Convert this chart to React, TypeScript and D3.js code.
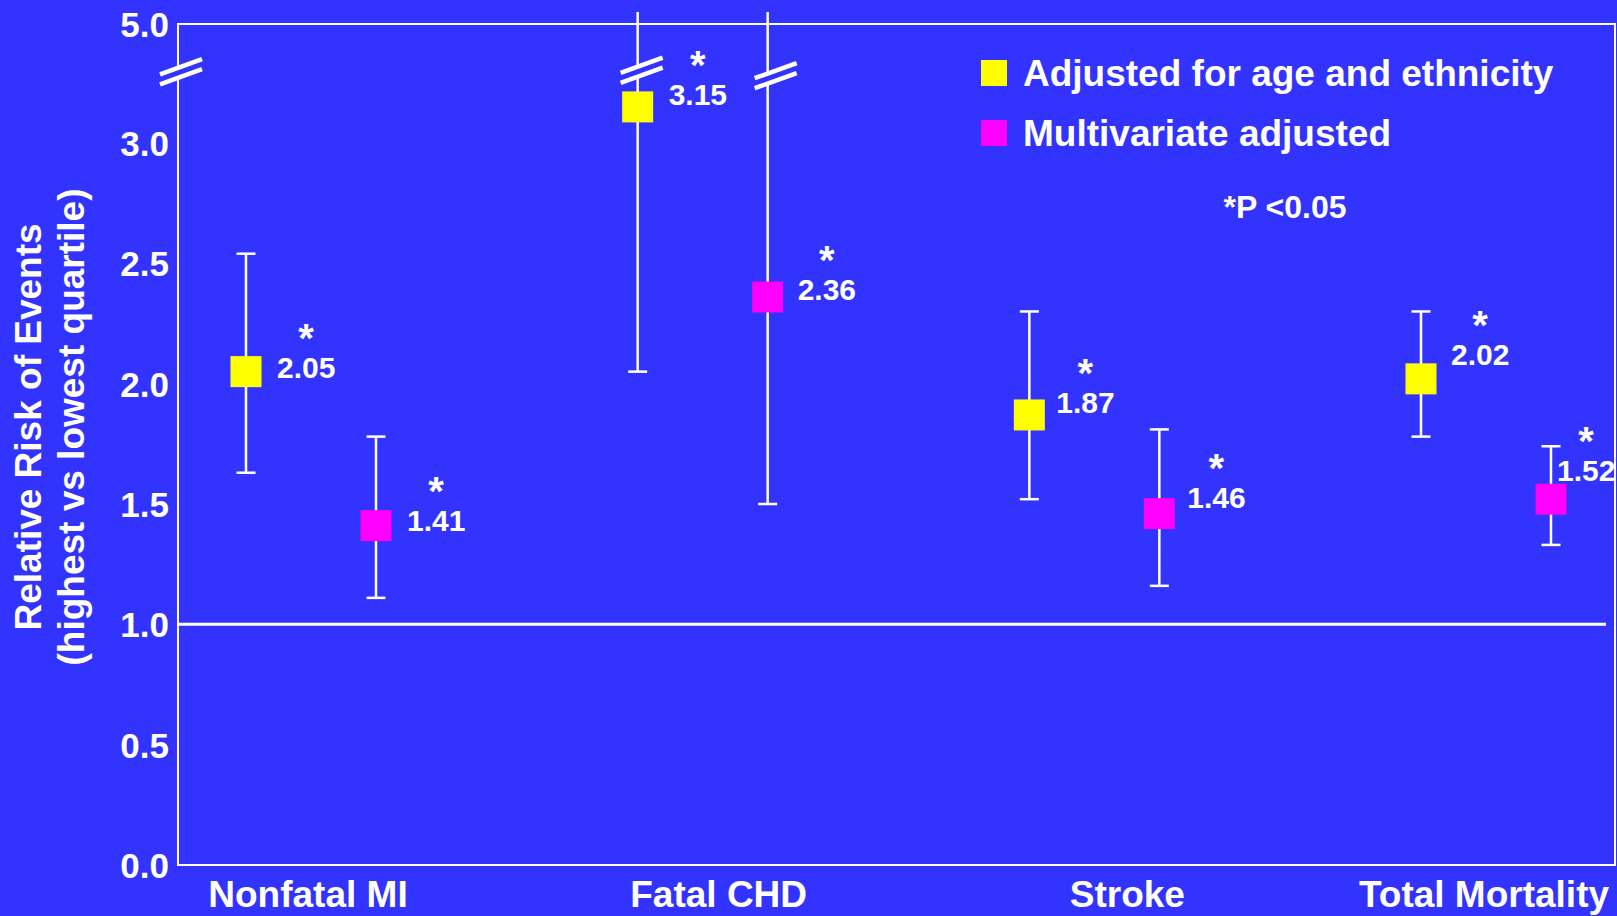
import React from 'react';
import * as d3 from 'd3';

// ---------- data ----------
const categories = ['Nonfatal MI', 'Fatal CHD', 'Stroke', 'Total Mortality'];
const seriesNames = ['Adjusted for age and ethnicity', 'Multivariate adjusted'];
const ageAdjRR = [2.05, 3.15, 1.87, 2.02];
const ageAdjLow = [1.63, 2.05, 1.52, 1.78];
const ageAdjHigh: (number | null)[] = [2.54, null, 2.3, 2.3]; // null: runs past the axis top
const multiRR = [1.41, 2.36, 1.46, 1.52];
const multiLow = [1.11, 1.5, 1.16, 1.33];
const multiHigh: (number | null)[] = [1.78, null, 1.81, 1.74];
const ageAdjSig = [true, true, true, true];
const multiSig = [true, true, true, true];
const yTicks = [0, 0.5, 1.0, 1.5, 2.0, 2.5, 3.0, 5.0];
const referenceValue = 1.0;
const yTitle = ['Relative Risk of Events', '(highest vs lowest quartile)'];
const pNote = '*P <0.05';

// ---------- layout / style ----------
const W = 1617;
const H = 916;
const BG = '#3333FF';
const YELLOW = '#FFFF00';
const MAGENTA = '#FF00FF';
const FONT = '"Liberation Sans", Arial, Helvetica, sans-serif';
const plotLeft = 178;
const plotRight = 1615;
const plotTop = 24;
const plotBottom = 865;
const breakValue = 3.3;
const seriesOffset = [-65, 65];
const markerSize = 31;
const capHalf = 9.5;
const overflowTop = 12;
// value-label placement relative to marker (dx to text start, dy to baseline)
const labelDx = [
  [31, 31, 27, 30],
  [31, 30, 28, 6],
];
const labelDy = [
  [6, -2, -2, -14],
  [5, 3, -6, -18],
];
const catLabelShift = [-3, 16, 33, -2];

const y = d3.scaleLinear().domain([0, breakValue, 5]).range([plotBottom, y0(breakValue), plotTop]);
function y0(v: number) {
  return plotBottom - (v * (plotBottom - 143)) / 3.0;
}
const x = d3
  .scalePoint<string>()
  .domain(categories)
  .range([311, 1486]);

const fmt = d3.format('.1f');

function BreakMark({ cx, cy }: { cx: number; cy: number }) {
  const hx = 21;
  const slope = -0.36;
  const gap = 5;
  const p = (dx: number, dy: number) => `${cx + dx},${cy + dx * slope + dy}`;
  return (
    <g>
      <polygon points={[p(-hx, -gap), p(hx, -gap), p(hx, gap), p(-hx, gap)].join(' ')} fill={BG} />
      <line x1={cx - hx} y1={cy - hx * slope - gap} x2={cx + hx} y2={cy + hx * slope - gap} stroke="#fff" strokeWidth={4.5} />
      <line x1={cx - hx} y1={cy - hx * slope + gap} x2={cx + hx} y2={cy + hx * slope + gap} stroke="#fff" strokeWidth={4.5} />
    </g>
  );
}

export default function App() {
  const series = [
    { name: seriesNames[0], color: YELLOW, rr: ageAdjRR, lo: ageAdjLow, hi: ageAdjHigh, sig: ageAdjSig },
    { name: seriesNames[1], color: MAGENTA, rr: multiRR, lo: multiLow, hi: multiHigh, sig: multiSig },
  ];
  return (
    <svg
      width={W}
      height={H}
      style={{ position: 'absolute', left: 0, top: 0, display: 'block' }}
      fontFamily={FONT}
      fontWeight="bold"
    >
      <rect x={0} y={0} width={W} height={H} fill={BG} />

      {/* frame */}
      <rect
        x={plotLeft}
        y={plotTop}
        width={plotRight - plotLeft}
        height={plotBottom - plotTop}
        fill="none"
        stroke="#fff"
        strokeWidth={2}
      />
      {/* reference line */}
      <line x1={plotLeft} x2={1606} y1={y(referenceValue)} y2={y(referenceValue)} stroke="#fff" strokeWidth={3} />

      {/* y ticks */}
      {yTicks.map((t) => (
        <text key={t} x={169} y={y(t) + 13} textAnchor="end" fill="#fff" fontSize={35}>
          {fmt(t)}
        </text>
      ))}

      {/* y title */}
      <g transform="translate(41,427) rotate(-90)">
        <text x={0} y={0} textAnchor="middle" fill="#fff" fontSize={37}>
          {yTitle[0]}
        </text>
        <text x={0} y={43} textAnchor="middle" fill="#fff" fontSize={37}>
          {yTitle[1]}
        </text>
      </g>

      {/* error bars and markers */}
      {series.map((s, si) =>
        categories.map((c, ci) => {
          const cx = (x(c) as number) + seriesOffset[si];
          const yHi = s.hi[ci] == null ? overflowTop : y(s.hi[ci] as number);
          const yLo = y(s.lo[ci]);
          const yv = y(s.rr[ci]);
          const lx = cx + labelDx[si][ci];
          const ly = yv + labelDy[si][ci];
          return (
            <g key={`${si}-${ci}`}>
              <line x1={cx} x2={cx} y1={yHi} y2={yLo} stroke="#fff" strokeWidth={2.5} />
              {s.hi[ci] != null && (
                <line x1={cx - capHalf} x2={cx + capHalf} y1={yHi} y2={yHi} stroke="#fff" strokeWidth={2.5} />
              )}
              <line x1={cx - capHalf} x2={cx + capHalf} y1={yLo} y2={yLo} stroke="#fff" strokeWidth={2.5} />
              <rect
                x={cx - markerSize / 2}
                y={yv - markerSize / 2}
                width={markerSize}
                height={markerSize}
                fill={s.color}
              />
              <text x={lx} y={ly} fill="#fff" fontSize={30}>
                {d3.format('.2f')(s.rr[ci])}
              </text>
              {s.sig[ci] && (
                <text x={lx + 29} y={ly - 26} textAnchor="middle" fill="#fff" fontSize={40}>
                  *
                </text>
              )}
            </g>
          );
        })
      )}

      {/* axis breaks */}
      <BreakMark cx={181} cy={y(breakValue) + 1} />
      <BreakMark cx={(x('Fatal CHD') as number) + seriesOffset[0] + 4} cy={y(3.32)} />
      <BreakMark cx={(x('Fatal CHD') as number) + seriesOffset[1] + 8} cy={y(3.28)} />

      {/* category labels */}
      {categories.map((c, i) => (
        <text key={c} x={(x(c) as number) + catLabelShift[i]} y={907} textAnchor="middle" fill="#fff" fontSize={37}>
          {c}
        </text>
      ))}

      {/* legend */}
      {series.map((s, i) => (
        <g key={s.name}>
          <rect x={981} y={60 + i * 60} width={26} height={26} fill={s.color} />
          <text x={1023} y={86 + i * 60} fill="#fff" fontSize={37}>
            {s.name}
          </text>
        </g>
      ))}
      <text x={1285} y={218} textAnchor="middle" fill="#fff" fontSize={32}>
        {pNote}
      </text>
    </svg>
  );
}
